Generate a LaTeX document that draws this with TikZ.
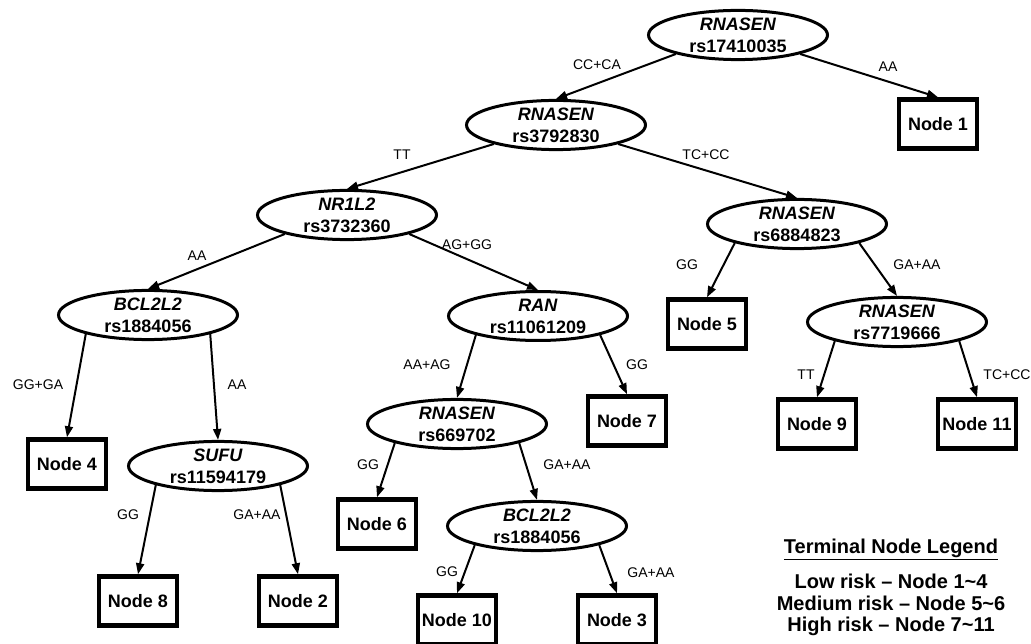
\documentclass[tikz,border=0pt]{standalone}
\usepackage{fontspec}
\setmainfont{Liberation Sans}
\usetikzlibrary{arrows.meta,shapes.geometric}
\begin{document}
\begin{tikzpicture}[x=1pt,y=1pt,
  split/.style={ellipse, draw, line width=3pt, minimum width=179pt, minimum height=49pt,
    inner sep=0pt, align=center, font=\fontsize{18}{22}\selectfont\bfseries},
  leaf/.style={rectangle, draw, line width=4.5pt, minimum width=78pt, minimum height=49pt,
    inner sep=0pt, font=\fontsize{18}{22}\selectfont\bfseries},
  edge/.style={line width=2pt, -{Triangle[length=11pt,width=8pt]}},
  lab/.style={font=\fontsize{14}{16}\selectfont, inner sep=0pt},
  legend/.style={align=center, inner sep=0pt, font=\fontsize{20}{21.5}\selectfont\bfseries}]
\useasboundingbox (0,0) rectangle (1031,-644);
% split nodes
\node[split] (e1)  at (738,-35)  {\textit{RNASEN}\\rs17410035};
\node[split] (e2)  at (556,-125) {\textit{RNASEN}\\rs3792830};
\node[split] (e3)  at (347,-215) {\textit{NR1L2}\\rs3732360};
\node[split] (e4)  at (148,-315) {\textit{BCL2L2}\\rs1884056};
\node[split] (e5)  at (538,-316) {\textit{RAN}\\rs11061209};
\node[split] (e6)  at (457,-424) {\textit{RNASEN}\\rs669702};
\node[split] (e7)  at (537,-526) {\textit{BCL2L2}\\rs1884056};
\node[split] (e8)  at (218,-466) {\textit{SUFU}\\rs11594179};
\node[split] (e9)  at (797,-224) {\textit{RNASEN}\\rs6884823};
\node[split] (e10) at (897,-322) {\textit{RNASEN}\\rs7719666};
% terminal nodes
\node[leaf] (n1)  at (938,-124) {Node 1};
\node[leaf] (n4)  at (67,-464)  {Node 4};
\node[leaf] (n8)  at (138,-601) {Node 8};
\node[leaf] (n2)  at (298,-601) {Node 2};
\node[leaf] (n6)  at (377,-524) {Node 6};
\node[leaf] (n10) at (457,-620) {Node 10};
\node[leaf] (n3)  at (617,-620) {Node 3};
\node[leaf] (n7)  at (627,-421) {Node 7};
\node[leaf] (n5)  at (707,-324) {Node 5};
\node[leaf] (n9)  at (817,-424) {Node 9};
\node[leaf] (n11) at (977,-424) {Node 11};
% connectors
\draw[edge] (e1.197) -- (e2.north);
\draw[edge] (e1.-17) -- (n1.north);
\draw[edge] (e2.197) -- (e3.north);
\draw[edge] (e2.-17) -- (e9.north);
\draw[edge] (e3.197) -- (e4.north);
\draw[edge] (e3.-17) -- (e5.north);
\draw[edge] (e4.197) -- (n4.north);
\draw[edge] (e4.-17) -- (e8.north);
\draw[edge] (e5.197) -- (e6.north);
\draw[edge] (e5.-17) -- (n7.north);
\draw[edge] (e6.197) -- (n6.north);
\draw[edge] (e6.-17) -- (e7.north);
\draw[edge] (e7.197) -- (n10.north);
\draw[edge] (e7.-17) -- (n3.north);
\draw[edge] (e8.197) -- (n8.north);
\draw[edge] (e8.-17) -- (n2.north);
\draw[edge] (e9.197) -- (n5.north);
\draw[edge] (e9.-17) -- (e10.north);
\draw[edge] (e10.197) -- (n9.north);
\draw[edge] (e10.-17) -- (n11.north);
% labels
\node[lab] (l1)  at (597,-65)  {CC+CA};
\node[lab] (l2)  at (888,-67)  {AA};
\node[lab] (l3)  at (402,-155) {TT};
\node[lab] (l4)  at (706,-155) {TC+CC};
\node[lab] (l5)  at (197,-256) {AA};
\node[lab] (l6)  at (467,-245) {AG+GG};
\node[lab] (l7)  at (38,-385)  {GG+GA};
\node[lab] (l8)  at (237,-385) {AA};
\node[lab] (l9)  at (427,-365) {AA+AG};
\node[lab] (l10) at (637,-365) {GG};
\node[lab] (l11) at (368,-465) {GG};
\node[lab] (l12) at (567,-465) {GA+AA};
\node[lab] (l13) at (447,-572) {GG};
\node[lab] (l14) at (651,-573) {GA+AA};
\node[lab] (l15) at (128,-515) {GG};
\node[lab] (l16) at (257,-515) {GA+AA};
\node[lab] (l17) at (687,-265) {GG};
\node[lab] (l18) at (917,-265) {GA+AA};
\node[lab] (l19) at (806,-375) {TT};
\node[lab] (l20) at (1007,-375) {TC+CC};
% legend
\node[legend] (legt) at (891,-549) {\underline{Terminal Node Legend}};
\node[legend] (legb) at (891,-605) {Low risk -- Node 1\char"007E 4\\Medium risk -- Node 5\char"007E 6\\High risk -- Node 7\char"007E 11};
\end{tikzpicture}
\end{document}
